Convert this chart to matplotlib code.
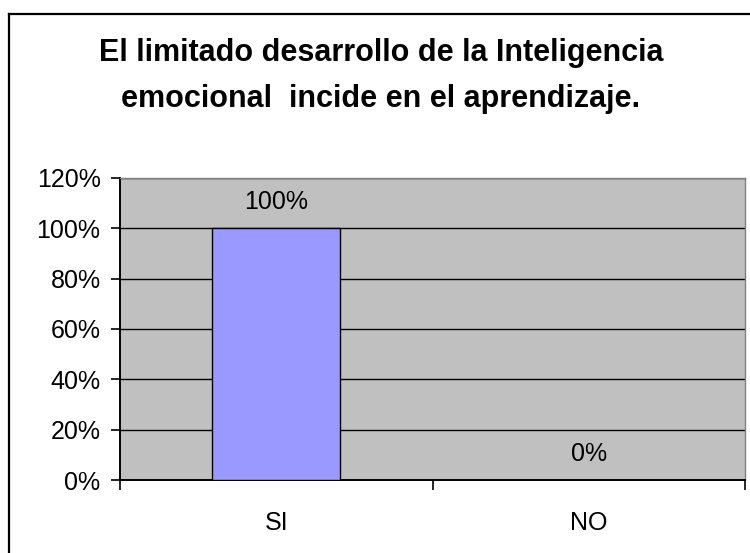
import matplotlib.pyplot as plt
from matplotlib.lines import Line2D

plt.rcParams['font.family'] = ['Liberation Sans', 'DejaVu Sans']

title = "El limitado desarrollo de la Inteligencia\nemocional  incide en el aprendizaje."
categories = ['SI', 'NO']
values = [1.0, 0.0]
value_labels = ['100%', '0%']
y_ticks = [0, 0.2, 0.4, 0.6, 0.8, 1.0, 1.2]


def main():
    fig = plt.figure(figsize=(7.5, 5.53), dpi=100)
    W, H = 750.0, 553.0

    # outer chart frame (only top and left edges show in the crop)
    fig.add_artist(Line2D([8.5 / W, 1.0], [1 - 13.5 / H, 1 - 13.5 / H], color='black', lw=1.6,
                          transform=fig.transFigure))
    fig.add_artist(Line2D([8.5 / W, 8.5 / W], [0, 1 - 13.5 / H], color='black', lw=1.6,
                          transform=fig.transFigure))

    fig.text(381 / W, 1 - 76 / H, title, ha='center', va='center', fontsize=22,
             fontweight='bold', linespacing=1.68)

    ax = fig.add_axes([120 / W, 1 - 480 / H, 625 / W, 302 / H])
    ax.set_facecolor('#c0c0c0')
    x = list(range(len(categories)))
    ax.bar(x, values, width=0.41, color='#9999ff', edgecolor='black', linewidth=1.0, zorder=3)
    for xi, v, lab in zip(x, values, value_labels):
        ax.annotate(lab, (xi, v), xytext=(0, 19), textcoords='offset points',
                    ha='center', va='center', fontsize=18)

    ax.set_xlim(-0.5, len(categories) - 0.5)
    ax.set_ylim(0, 1.2)
    ax.set_yticks(y_ticks)
    ax.set_yticklabels([f'{int(round(t * 100))}%' for t in y_ticks], fontsize=18)
    ax.yaxis.grid(True, color='black', lw=1.0, zorder=1)
    ax.set_axisbelow(True)

    ax.set_xticks([i - 0.5 for i in range(len(categories) + 1)])
    ax.set_xticklabels([])
    ax.set_xticks(x, minor=True)
    ax.set_xticklabels(categories, minor=True, fontsize=18)
    ax.tick_params(axis='x', which='major', direction='out', length=7, width=1.2, color='black')
    ax.tick_params(axis='x', which='minor', length=0, pad=22)
    ax.tick_params(axis='y', direction='out', length=6.5, width=1.2, pad=7.5)

    for s in ['top', 'right']:
        ax.spines[s].set_color('#808080')
        ax.spines[s].set_linewidth(1.0)
    for s in ['left', 'bottom']:
        ax.spines[s].set_color('black')
        ax.spines[s].set_linewidth(1.4)

    fig.savefig('out.png', dpi=100)


if __name__ == "__main__":
    main()
